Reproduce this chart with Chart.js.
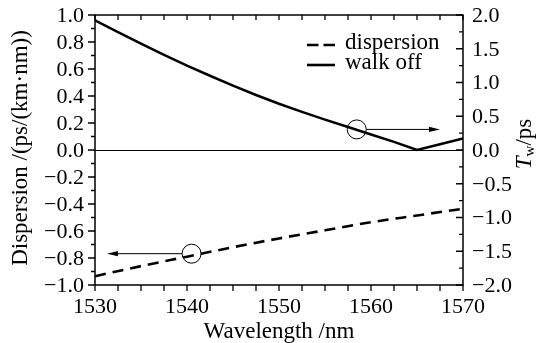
<!DOCTYPE html>
<html>
<head>
<meta charset="utf-8">
<script src="https://cdn.jsdelivr.net/npm/chart.js@4.4.0/dist/chart.umd.min.js"></script>
<style>
  html, body { margin: 0; padding: 0; background: #fff; }
  #wrap { width: 546px; height: 343px; }
</style>
</head>
<body>
<div id="wrap"><canvas id="chart" width="546" height="343"></canvas></div>
<script>
// walk off (T_w, ps) -> right axis
const walkWl = [1530, 1532.5, 1535, 1537.5, 1540, 1542.5, 1545, 1547.5, 1550, 1552.5, 1555, 1557.5, 1560, 1562.5, 1565, 1567.5, 1570];
const walkOff = [1.92, 1.745, 1.575, 1.41, 1.25, 1.10, 0.955, 0.815, 0.685, 0.565, 0.45, 0.34, 0.23, 0.12, 0.0, 0.085, 0.17];

// dispersion (ps/(km·nm)) -> left axis
const dispWl = [1530, 1535, 1540, 1545, 1550, 1555, 1560, 1565, 1570];
const dispersion = [-0.935, -0.86, -0.79, -0.72, -0.655, -0.595, -0.535, -0.485, -0.435];

const xTicks = [1530, 1540, 1550, 1560, 1570];
const leftTicks = [1.0, 0.8, 0.6, 0.4, 0.2, 0.0, -0.2, -0.4, -0.6, -0.8, -1.0];
const rightTicks = [2.0, 1.5, 1.0, 0.5, 0.0, -0.5, -1.0, -1.5, -2.0];
const legendLabels = ['dispersion', 'walk off'];

const SERIF = '"Liberation Serif", "Times New Roman", serif';

function fmt(v) {
    return (v < -1e-9 ? '\u2212' : '') + Math.abs(v).toFixed(1);
}

function arrow(ctx, x1, y, x2) {
    const dir = x2 > x1 ? 1 : -1;
    ctx.beginPath();
    ctx.moveTo(x1, y);
    ctx.lineTo(x2 - dir * 8, y);
    ctx.stroke();
    ctx.beginPath();
    ctx.moveTo(x2, y);
    ctx.lineTo(x2 - dir * 11, y - 2.6);
    ctx.lineTo(x2 - dir * 11, y + 2.6);
    ctx.closePath();
    ctx.fill();
}

const framePlugin = {
    id: 'frame',
    beforeDatasetsDraw(chart) {
        const ctx = chart.ctx;
        const a = chart.chartArea;
        const y0 = Math.round(chart.scales.y.getPixelForValue(0)) + 0.5;
        ctx.save();
        ctx.strokeStyle = '#000';
        ctx.lineWidth = 1;
        ctx.beginPath();
        ctx.moveTo(a.left, y0);
        ctx.lineTo(a.right, y0);
        ctx.stroke();
        ctx.restore();
    },
    afterDatasetsDraw(chart) {
        const ctx = chart.ctx;
        const a = chart.chartArea;
        const sx = chart.scales.x, sy = chart.scales.y, sy2 = chart.scales.y2;
        ctx.save();
        ctx.strokeStyle = '#000';
        ctx.fillStyle = '#000';
        ctx.lineWidth = 1.5;
        ctx.strokeRect(a.left, a.top, a.right - a.left, a.bottom - a.top);

        // ticks
        ctx.lineWidth = 1.3;
        ctx.beginPath();
        for (let v = 1530; v <= 1570 + 1e-6; v += 2.5) {
            const px = sx.getPixelForValue(v);
            ctx.moveTo(px, a.bottom); ctx.lineTo(px, a.bottom + 6);
            ctx.moveTo(px, a.top); ctx.lineTo(px, a.top + 5);
        }
        for (let i = 0; i <= 20; i++) {
            const v = -1 + i * 0.1;
            const py = sy.getPixelForValue(v);
            const len = i % 2 === 0 ? 7 : 4;
            ctx.moveTo(a.left - len, py); ctx.lineTo(a.left, py);
        }
        for (let i = 0; i <= 16; i++) {
            const v = -2 + i * 0.25;
            const py = sy2.getPixelForValue(v);
            const len = i % 2 === 0 ? 7 : 4;
            ctx.moveTo(a.right - len, py); ctx.lineTo(a.right, py);
        }
        ctx.stroke();

        // tick labels
        ctx.font = '22px ' + SERIF;
        ctx.textBaseline = 'middle';
        ctx.textAlign = 'right';
        leftTicks.forEach(v => ctx.fillText(fmt(v), a.left - 11, sy.getPixelForValue(v) + 1));
        ctx.textAlign = 'left';
        rightTicks.forEach(v => ctx.fillText(fmt(v), a.right + 9, sy2.getPixelForValue(v) + 1));
        ctx.textAlign = 'center';
        ctx.textBaseline = 'alphabetic';
        xTicks.forEach(v => ctx.fillText(String(v), sx.getPixelForValue(v), a.bottom + 28));

        // axis titles
        ctx.font = '23px ' + SERIF;
        ctx.fillText('Wavelength /nm', (a.left + a.right) / 2, a.bottom + 53);

        ctx.save();
        ctx.translate(21, 148);
        ctx.rotate(-Math.PI / 2);
        ctx.textBaseline = 'middle';
        ctx.fillText('Dispersion /(ps/(km\u00b7nm))', 0, 0);
        ctx.restore();

        ctx.save();
        ctx.translate(525, 144);
        ctx.rotate(-Math.PI / 2);
        ctx.textBaseline = 'middle';
        ctx.textAlign = 'left';
        const t1 = 'T', t2 = 'w', t3 = '/ps';
        ctx.font = 'italic 23px ' + SERIF;
        const w1 = ctx.measureText(t1).width;
        ctx.font = '15px ' + SERIF;
        const w2 = ctx.measureText(t2).width;
        ctx.font = '23px ' + SERIF;
        const w3 = ctx.measureText(t3).width;
        let x = -(w1 + w2 + w3) / 2;
        ctx.font = 'italic 23px ' + SERIF;
        ctx.fillText(t1, x, 0); x += w1;
        ctx.font = '15px ' + SERIF;
        ctx.fillText(t2, x, 5); x += w2;
        ctx.font = '23px ' + SERIF;
        ctx.fillText(t3, x, 0);
        ctx.restore();

        // legend
        ctx.lineWidth = 2.6;
        ctx.setLineDash([11.5, 5]);
        ctx.beginPath();
        ctx.moveTo(307, 45); ctx.lineTo(335, 45);
        ctx.stroke();
        ctx.setLineDash([]);
        ctx.beginPath();
        ctx.moveTo(307, 65); ctx.lineTo(335, 65);
        ctx.stroke();
        ctx.font = '23px ' + SERIF;
        ctx.textAlign = 'left';
        ctx.textBaseline = 'middle';
        ctx.fillText(legendLabels[0], 345, 43);
        ctx.fillText(legendLabels[1], 345, 63);

        // circle + arrow annotations
        ctx.lineWidth = 1;
        const c1x = sx.getPixelForValue(1558.45), c1y = sy2.getPixelForValue(0.305);
        ctx.beginPath(); ctx.arc(c1x, c1y, 9.5, 0, Math.PI * 2); ctx.stroke();
        arrow(ctx, c1x + 9.5, c1y, sx.getPixelForValue(1567.5));
        const c2x = sx.getPixelForValue(1540.5), c2y = sy.getPixelForValue(-0.768);
        ctx.beginPath(); ctx.arc(c2x, c2y, 9.5, 0, Math.PI * 2); ctx.stroke();
        arrow(ctx, c2x - 9.5, c2y, sx.getPixelForValue(1531.3));

        ctx.restore();
    }
};

const ctx = document.getElementById('chart').getContext('2d');
new Chart(ctx, {
    type: 'line',
    data: {
        datasets: [
            {
                label: legendLabels[0],
                data: dispWl.map((x, i) => ({ x, y: dispersion[i] })),
                yAxisID: 'y',
                borderColor: '#000',
                borderWidth: 2.6,
                borderDash: [11, 7],
                cubicInterpolationMode: 'monotone',
                pointRadius: 0,
                fill: false
            },
            {
                label: legendLabels[1],
                data: walkWl.map((x, i) => ({ x, y: walkOff[i] })),
                yAxisID: 'y2',
                borderColor: '#000',
                borderWidth: 2.5,
                tension: 0,
                pointRadius: 0,
                fill: false
            }
        ]
    },
    options: {
        responsive: false,
        animation: false,
        devicePixelRatio: 1,
        layout: { padding: { left: 95, right: 83, top: 15, bottom: 58 } },
        plugins: { legend: { display: false }, tooltip: { enabled: false } },
        scales: {
            x: { type: 'linear', min: 1530, max: 1570, display: false },
            y: { min: -1, max: 1, display: false },
            y2: { min: -2, max: 2, display: false, position: 'right' }
        }
    },
    plugins: [framePlugin]
});
</script>
</body>
</html>
